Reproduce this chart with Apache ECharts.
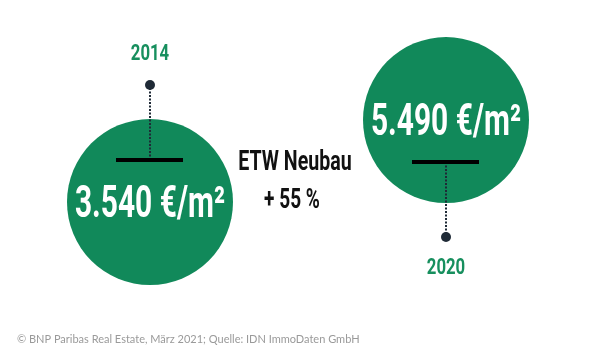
<!DOCTYPE html>
<html>
<head>
<meta charset="utf-8">
<script src="https://cdn.jsdelivr.net/npm/echarts@6/dist/echarts.min.js"></script>
<style>html,body{margin:0;padding:0;background:#fff}#c{width:600px;height:352px}</style>
</head>
<body>
<div id="c"></div>
<script>
var years = [2014, 2020];
var prices = [3540, 5490];
var valueLabels = ['3.540 €/m²', '5.490 €/m²'];
var yearLabels = ['2014', '2020'];
var annotationSide = ['top', 'bottom'];
var centerTitle = 'ETW Neubau';
var centerChange = '+ 55 %';
var sourceNote = '© BNP Paribas Real Estate, März 2021; Quelle: IDN ImmoDaten GmbH';

var GREEN = '#11895a';
var GREEN_TXT = '#178f5e';
var DARK = '#1f2a36';
var FONT = "Roboto, sans-serif";

var data = years.map(function (y, i) { return [y, prices[i], i]; });

var chart = echarts.init(document.getElementById('c'), null, {renderer: 'canvas'});
chart.setOption({
  animation: false,
  backgroundColor: '#fff',
  grid: {left: 2, right: 6, top: 14.5, bottom: 1.1},
  xAxis: {type: 'value', min: 2011, max: 2023, show: false},
  yAxis: {type: 'value', min: 0, max: 8000, show: false},
  title: {
    text: sourceNote, left: 12, top: 329,
    textStyle: {fontFamily: 'Lato, sans-serif', fontSize: 11, fontWeight: 'normal', color: '#9a9a9a'}
  },
  series: [{
    type: 'custom',
    data: data,
    encode: {x: 0, y: 1},
    renderItem: function (params, api) {
      var i = api.value(2);
      var c = api.coord([api.value(0), api.value(1)]);
      var cx = c[0], cy = c[1];
      var up = annotationSide[i] === 'top';
      var s = up ? -1 : 1;
      var barY = cy + s * 42;
      var dotY = cy + s * 117;
      var labY = cy + s * 148;
      return {
        type: 'group',
        children: [
          {type: 'circle', shape: {cx: cx, cy: cy, r: 83}, style: {fill: GREEN}},
          {type: 'line', shape: {x1: cx, y1: barY, x2: cx, y2: dotY}, style: {stroke: DARK, lineWidth: 2, lineDash: [2, 1.5]}},
          {type: 'rect', shape: {x: cx - 34, y: barY - 2, width: 67, height: 4}, style: {fill: '#000'}},
          {type: 'circle', shape: {cx: cx, cy: dotY, r: 5}, style: {fill: DARK}},
          {type: 'text', x: cx, y: labY, scaleX: 0.76, style: {text: yearLabels[i], fill: GREEN_TXT, font: 'bold 22px ' + FONT, align: 'center', verticalAlign: 'middle'}},
          {type: 'text', x: cx, y: cy + 4, scaleX: 0.68, style: {text: valueLabels[i], fill: '#fff', font: 'bold 44px ' + FONT, align: 'center', verticalAlign: 'middle'}}
        ]
      };
    }
  }, {
    type: 'custom',
    data: [[(years[0] + years[1]) / 2, (prices[0] + prices[1]) / 2]],
    encode: {x: 0, y: 1},
    renderItem: function (params, api) {
      var c = api.coord([api.value(0), api.value(1)]);
      return {
        type: 'group',
        children: [
          {type: 'text', x: c[0] - 3, y: 163, scaleX: 0.7, style: {text: centerTitle, fill: '#111', font: 'bold 28px ' + FONT, align: 'center', verticalAlign: 'middle'}},
          {type: 'text', x: c[0] - 6, y: 201, scaleX: 0.68, style: {text: centerChange, fill: '#111', font: 'bold 28px ' + FONT, align: 'center', verticalAlign: 'middle'}}
        ]
      };
    }
  }]
});
</script>
</body>
</html>
